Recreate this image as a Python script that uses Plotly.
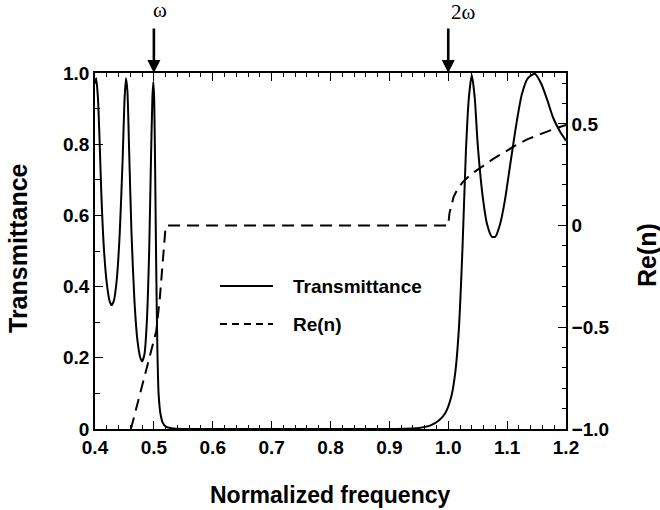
import plotly.graph_objects as go

# ---- data ----
freq_T = [0.400, 0.402, 0.405, 0.408, 0.411, 0.415, 0.420, 0.425, 0.428, 0.432, 0.437,
          0.442, 0.447, 0.450, 0.4525, 0.455, 0.458, 0.462, 0.467, 0.472, 0.477, 0.480,
          0.484, 0.488, 0.492, 0.495, 0.4975, 0.499, 0.5005, 0.502, 0.504, 0.506, 0.508,
          0.511, 0.515, 0.520, 0.530, 0.550, 0.700, 0.900, 0.950, 0.970, 0.985, 0.995,
          1.005, 1.012, 1.018, 1.024, 1.030, 1.035, 1.040, 1.045, 1.050, 1.058, 1.066,
          1.074, 1.080, 1.088, 1.096, 1.105, 1.115, 1.125, 1.135, 1.147, 1.158, 1.168,
          1.178, 1.190, 1.200]
trans = [0.97, 0.985, 0.93, 0.80, 0.65, 0.51, 0.41, 0.358, 0.348, 0.36, 0.42,
         0.55, 0.76, 0.92, 0.985, 0.95, 0.78, 0.55, 0.36, 0.25, 0.20, 0.19,
         0.21, 0.30, 0.50, 0.75, 0.93, 0.975, 0.93, 0.75, 0.45, 0.22, 0.10,
         0.045, 0.018, 0.007, 0.002, 0.0, 0.0, 0.0, 0.003, 0.010, 0.025, 0.045,
         0.09, 0.16, 0.28, 0.50, 0.78, 0.93, 0.995, 0.93, 0.80, 0.66, 0.575,
         0.54, 0.54, 0.575, 0.64, 0.74, 0.85, 0.94, 0.985, 0.998, 0.97, 0.925,
         0.875, 0.835, 0.81]

freq_n = [0.461, 0.472, 0.483, 0.494, 0.504, 0.510, 0.514, 0.517, 0.5195, 0.521,
          1.000, 1.002, 1.005, 1.009, 1.015, 1.025, 1.040, 1.055, 1.075, 1.095,
          1.115, 1.135, 1.155, 1.175, 1.200]
re_n = [-1.0, -0.88, -0.76, -0.64, -0.52, -0.36, -0.20, -0.08, -0.02, 0.0,
        0.0, 0.06, 0.10, 0.14, 0.175, 0.215, 0.255, 0.285, 0.325, 0.36,
        0.395, 0.425, 0.448, 0.47, 0.495]

x_range = [0.4, 1.2]
y_range = [0.0, 1.0]
y2_range = [-1.0, 0.75]
zero_alias = {"0.0": "0"}
markers = [(0.5, "\u03c9"), (1.0, "2\u03c9")]
legend_names = ["Transmittance", "Re(n)"]

# ---- layout geometry (pixels) ----
W, H = 660, 510
L, R, T, B = 95, 94, 73, 81
pw, ph = W - L - R, H - T - B

def px(xp):
    return (xp - L) / pw

def py(yp):
    return (H - B - yp) / ph

FONT = "Liberation Sans, Arial, sans-serif"
tickfont = dict(family=FONT, size=19, color="black", weight="bold")

fig = go.Figure()
fig.add_trace(go.Scatter(x=freq_T, y=trans, mode="lines", name=legend_names[0],
                         line=dict(color="black", width=2, shape="spline", smoothing=0.6),
                         showlegend=False))
fig.add_trace(go.Scatter(x=freq_n, y=re_n, mode="lines", name=legend_names[1], yaxis="y2",
                         line=dict(color="black", width=2, dash="12px,7px"),
                         showlegend=False))

major = dict(showline=True, linecolor="black", linewidth=1.5, ticks="inside",
             tickcolor="black", tickwidth=1.3, showgrid=False, zeroline=False,
             tickfont=tickfont, tickmode="linear", tickformat=".1f",
             labelalias=zero_alias, ticklen=8)

def minor_ticks(step, start, length):
    return dict(ticks="inside", dtick=step, tick0=start, ticklen=length,
                tickcolor="black", tickwidth=1.1)

fig.update_layout(
    template="simple_white",
    width=W, height=H,
    margin=dict(l=L, r=R, t=T, b=B),
    paper_bgcolor="white", plot_bgcolor="white",
    showlegend=False,
    xaxis=dict(range=x_range, tick0=0.4, dtick=0.1, mirror="ticks",
               minor=minor_ticks(0.02, 0.4, 4), **major),
    yaxis=dict(range=y_range, tick0=0, dtick=0.2,
               minor=minor_ticks(0.1, 0.0, 5), **major),
    yaxis2=dict(range=y2_range, overlaying="y", side="right", anchor="x",
                tick0=-1.0, dtick=0.5, minor=minor_ticks(0.1, -1.0, 4), **major),
)

annotations = []
# axis titles
annotations.append(dict(text="<b>Normalized frequency</b>", xref="paper", yref="paper",
                        x=px(330), y=py(495), xanchor="center", yanchor="middle",
                        showarrow=False, font=dict(family=FONT, size=23, color="black")))
annotations.append(dict(text="<b>Transmittance</b>", xref="paper", yref="paper",
                        x=px(18), y=py(248), xanchor="center", yanchor="middle",
                        showarrow=False, textangle=-90,
                        font=dict(family=FONT, size=25, color="black")))
annotations.append(dict(text="<b>Re(n)</b>", xref="paper", yref="paper",
                        x=px(647), y=py(255), xanchor="center", yanchor="middle",
                        showarrow=False, textangle=-90,
                        font=dict(family=FONT, size=25, color="black")))
# frequency markers with arrows
label_y = [10, 12]
for (xm, lab), ly in zip(markers, label_y):
    annotations.append(dict(x=xm, y=1.0, xref="x", yref="paper", showarrow=True,
                            ax=0, ay=-46, arrowhead=2, arrowsize=1, arrowwidth=2.6,
                            arrowcolor="black", text=""))
    annotations.append(dict(x=xm, y=py(ly), xref="x", yref="paper", showarrow=False,
                            xanchor="center", yanchor="middle",
                            text=lab, xshift=6 if len(lab) == 1 else 15,
                            font=dict(family="Liberation Serif, Times New Roman, serif",
                                      size=21, color="black")))
# legend texts
leg_y = [286, 324]
for name, yy in zip(legend_names, leg_y):
    annotations.append(dict(text="<b>" + name + "</b>", xref="paper", yref="paper",
                            x=px(291), y=py(yy), xanchor="left", yanchor="middle",
                            showarrow=False, font=dict(family=FONT, size=19, color="black")))
fig.update_layout(annotations=annotations)

# legend samples
fig.add_shape(type="line", xref="paper", yref="paper", x0=px(220), x1=px(273),
              y0=py(leg_y[0]), y1=py(leg_y[0]), opacity=1,
              line=dict(color="black", width=2))
fig.add_shape(type="line", xref="paper", yref="paper", x0=px(220), x1=px(273),
              y0=py(leg_y[1]), y1=py(leg_y[1]), opacity=1,
              line=dict(color="black", width=2, dash="7px,5px"))

fig.write_html("out.html")
